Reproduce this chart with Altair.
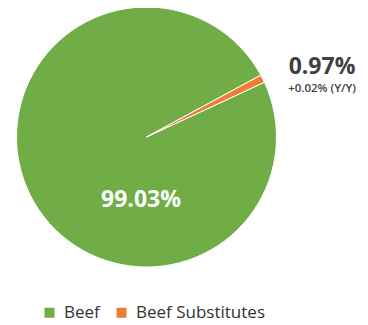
import altair as alt
import pandas as pd

categories = ["Beef", "Beef Substitutes"]
shares = [99.03, 0.97]
colors = ["#70AD47", "#ED7D31"]
order = [1, 0]
yoy_label = "+0.02% (Y/Y)"

START = 1.075  # radians from 12 o'clock
TWO_PI = 6.283185307

pie_df = pd.DataFrame({"category": categories, "share": shares, "ord": order})

CX, CY, R = 138.5, 129, 130

pie = alt.Chart(pie_df).mark_arc(outerRadius=R, stroke="white", strokeWidth=1).encode(
    theta=alt.Theta("share:Q", stack=True, scale=alt.Scale(range=[START, START + TWO_PI])),
    order=alt.Order("ord:Q"),
    color=alt.Color(
        "category:N",
        scale=alt.Scale(domain=categories, range=colors),
        legend=alt.Legend(
            title=None,
            orient="none",
            legendX=33,
            legendY=296,
            direction="horizontal",
            symbolType="square",
            symbolSize=100,
            symbolStrokeWidth=0,
            labelFontSize=17,
            labelFont="Open Sans",
            labelColor="#333333",
            labelOffset=6,
            columnPadding=13,
        ),
    ),
    x=alt.value(CX),
    y=alt.value(CY),
)

big_df = pd.DataFrame({"t": [f"{shares[0]:.2f}%"]})
big = alt.Chart(big_df).mark_text(
    font="Open Sans", fontSize=23, fontWeight="bold", color="white", align="center", baseline="middle"
).encode(text="t:N", x=alt.value(133), y=alt.value(192))

small_df = pd.DataFrame({"t": [f"{shares[1]:.2f}%"]})
small = alt.Chart(small_df).mark_text(
    font="Open Sans", fontSize=23, fontWeight="bold", color="#404040", align="center", baseline="middle"
).encode(text="t:N", x=alt.value(314), y=alt.value(59))

yoy_df = pd.DataFrame({"t": [yoy_label]})
yoy = alt.Chart(yoy_df).mark_text(
    font="Open Sans", fontSize=11.5, fontWeight=600, color="#404040", align="center", baseline="middle"
).encode(text="t:N", x=alt.value(314), y=alt.value(81))

chart = alt.layer(pie, big, small, yoy).properties(
    width=352, height=317, padding=0, autosize=alt.AutoSizeParams(type="none")
).configure_view(stroke=None)

chart.save("out.html", embed_options={"renderer": "svg", "actions": False})
